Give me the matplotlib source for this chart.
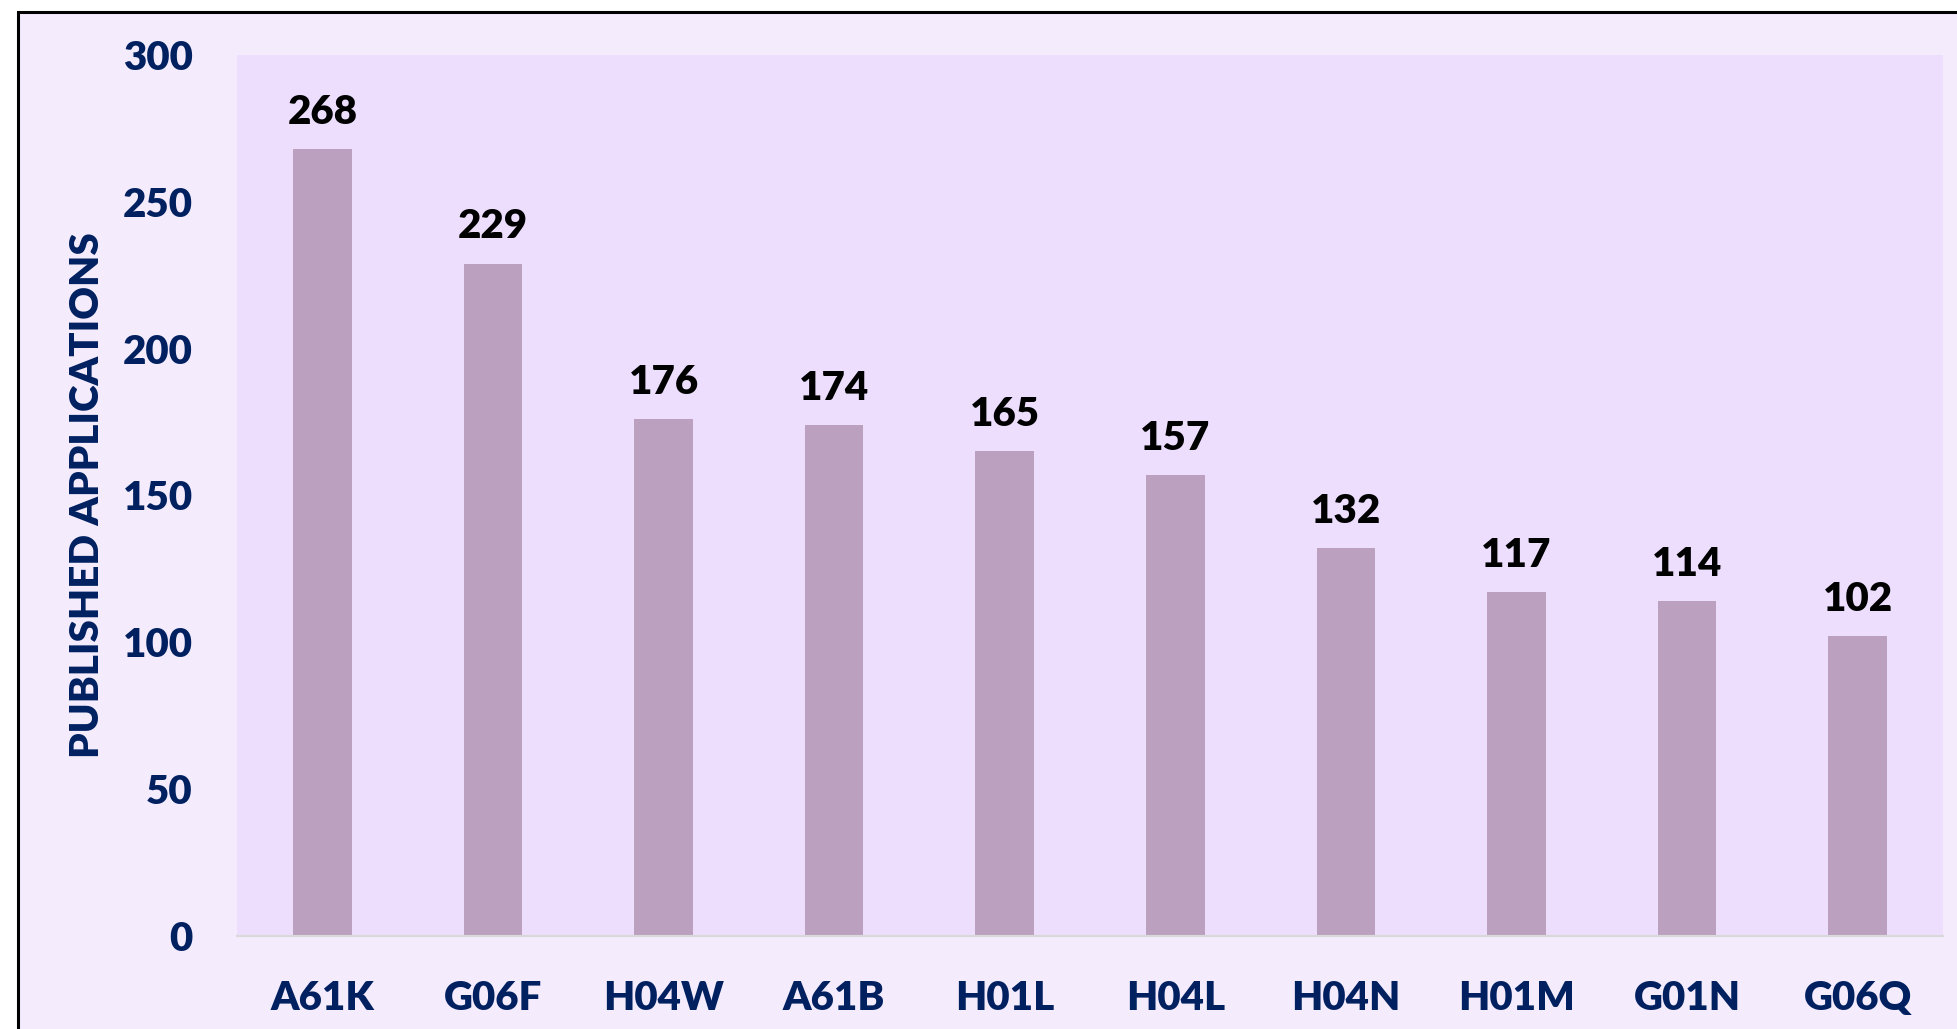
import matplotlib
matplotlib.use("Agg")
import matplotlib.pyplot as plt
from matplotlib.patches import Rectangle

categories = ["A61K", "G06F", "H04W", "A61B", "H01L", "H04L", "H04N", "H01M", "G01N", "G06Q"]
values = [268, 229, 176, 174, 165, 157, 132, 117, 114, 102]
yticks = [0, 50, 100, 150, 200, 250, 300]
ylabel = "PUBLISHED APPLICATIONS"

NAVY = "#002060"
BAR = "#BBA1BF"
AX_BG = "#EDDEFE"
FIG_BG = "#F4EBFD"
WEIGHT = 800

plt.rcParams['font.family'] = ['Lato', 'DejaVu Sans']

fig = plt.figure(figsize=(19.57, 10.29), dpi=100, facecolor="white")
border = Rectangle((18/1957, -0.2), 1.2, 1.2 - 12/1029, transform=fig.transFigure,
                   facecolor=FIG_BG, edgecolor="black", linewidth=2.2, zorder=-10)
fig.patches.append(border)

ax = fig.add_axes([237/1957, 93/1029, (1943-237)/1957, (936-55)/1029])
ax.set_facecolor(AX_BG)

x = list(range(len(categories)))
bars = ax.bar(x, values, width=0.344, color=BAR, zorder=2)
ax.bar_label(bars, labels=[str(v) for v in values], padding=13, fontsize=29,
             fontweight=WEIGHT, color="black")

ax.set_xlim(-0.5, len(categories) - 0.5)
ax.set_ylim(0, 300)
ax.set_xticks(x)
ax.set_xticklabels(categories)
ax.set_yticks(yticks)
ax.set_yticklabels([str(t) for t in yticks])

for lab in ax.get_xticklabels() + ax.get_yticklabels():
    lab.set_fontsize(29)
    lab.set_fontweight(WEIGHT)
    lab.set_color(NAVY)

ax.tick_params(axis="x", length=0, pad=32)
ax.tick_params(axis="y", length=0, pad=32)

for s in ["top", "right", "left"]:
    ax.spines[s].set_visible(False)
ax.spines["bottom"].set_color("#D9D9D9")
ax.spines["bottom"].set_linewidth(1.5)

ax.set_ylabel(ylabel, fontsize=29, fontweight=WEIGHT, color=NAVY, va="center")
ax.yaxis.set_label_coords((88 - 237) / (1943 - 237), 0.5)

fig.savefig("out.png", dpi=100, facecolor="white")
